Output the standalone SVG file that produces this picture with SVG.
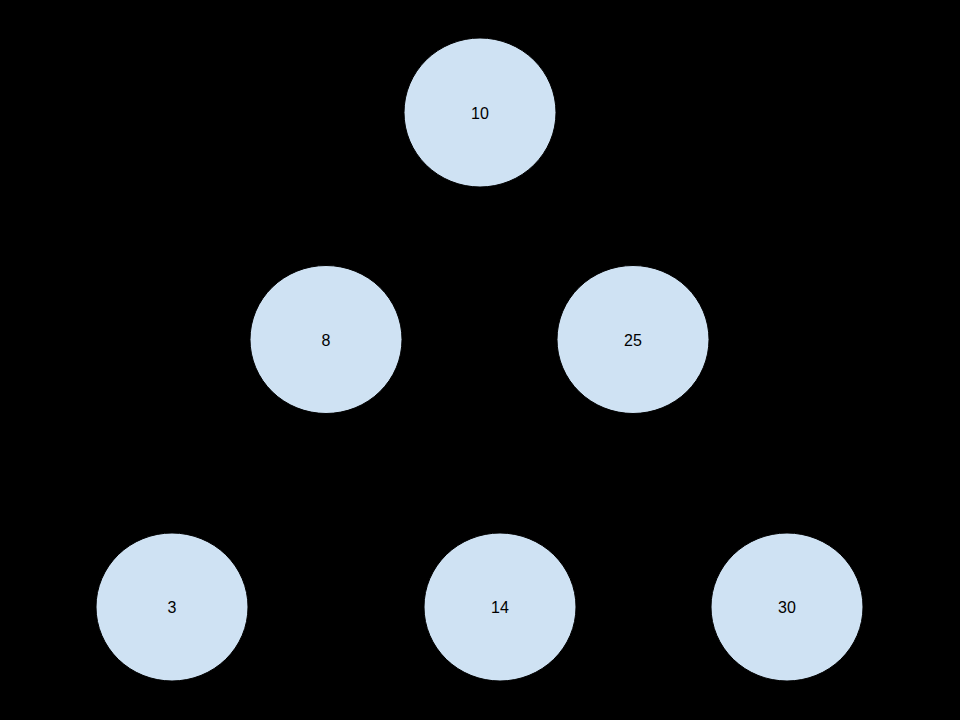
<svg xmlns="http://www.w3.org/2000/svg" width="960" height="720" viewBox="0 0 960 720">
<style>
.node{fill:#cfe2f3;stroke:#000;stroke-width:1}
.lbl{font-family:"Liberation Sans",Arial,sans-serif;font-size:16px;fill:#000;text-anchor:middle;dominant-baseline:central}
.edge{stroke:#000;stroke-width:2;fill:none}
</style>
<rect x="0" y="0" width="960" height="720" fill="#000"/>
<g id="connectors">
<line class="edge" x1="430" y1="170" x2="370" y2="280"/>
<line class="edge" x1="530" y1="170" x2="590" y2="280"/>
<line class="edge" x1="290" y1="405" x2="210" y2="540"/>
<line class="edge" x1="600" y1="405" x2="535" y2="540"/>
<line class="edge" x1="670" y1="405" x2="750" y2="540"/>
</g>
<g id="n10"><ellipse class="node" cx="480" cy="112.5" rx="76" ry="74.5"/><text class="lbl" x="480" y="113">10</text></g>
<g id="n8"><ellipse class="node" cx="326" cy="339.5" rx="76" ry="74"/><text class="lbl" x="326" y="340">8</text></g>
<g id="n25"><ellipse class="node" cx="633" cy="339.5" rx="76" ry="74"/><text class="lbl" x="633" y="340">25</text></g>
<g id="n3"><ellipse class="node" cx="172" cy="607" rx="76" ry="74"/><text class="lbl" x="172" y="607">3</text></g>
<g id="n14"><ellipse class="node" cx="500" cy="607" rx="76" ry="74"/><text class="lbl" x="500" y="607">14</text></g>
<g id="n30"><ellipse class="node" cx="787" cy="607" rx="76" ry="74"/><text class="lbl" x="787" y="607">30</text></g>
</svg>
